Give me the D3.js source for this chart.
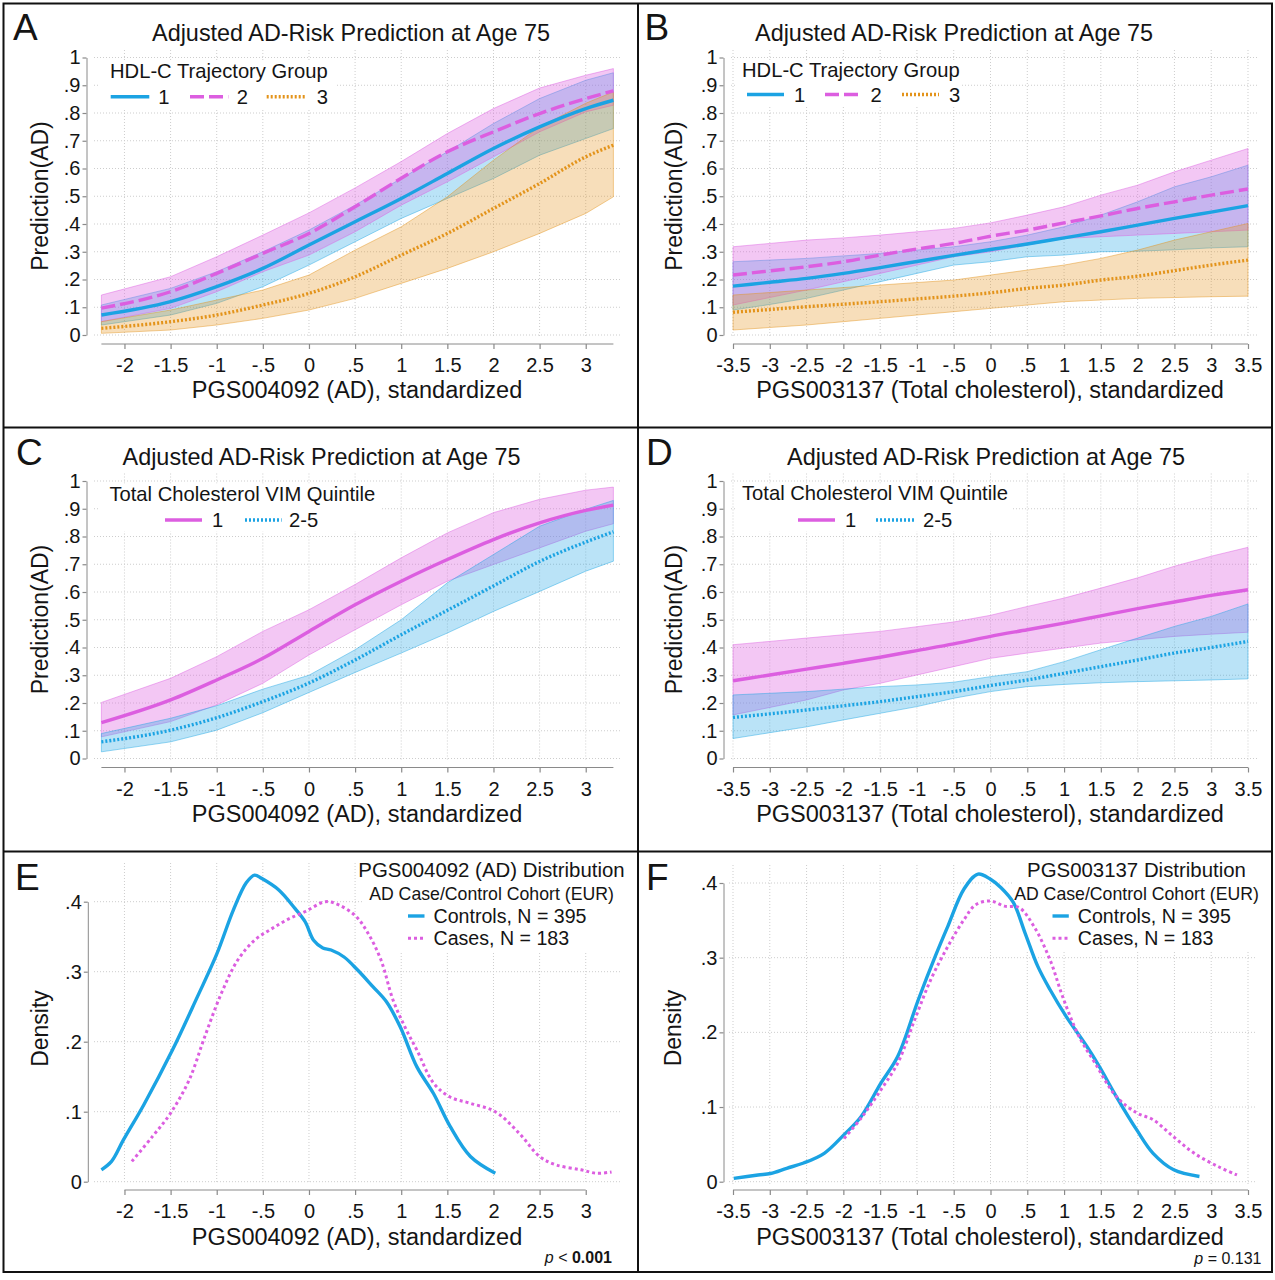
<!DOCTYPE html>
<html><head><meta charset="utf-8">
<script src="https://cdn.jsdelivr.net/npm/d3@7"></script>
<style>
body{margin:0;background:#fff}
svg{display:block}
text{font-family:"Liberation Sans",Arial,sans-serif;fill:#141414}
</style>
</head><body><script>
// ---------------- DATA ----------------
const panelTitle = "Adjusted AD-Risk Prediction at Age 75";
const xTitleAD = "PGS004092 (AD), standardized";
const xTitleTC = "PGS003137 (Total cholesterol), standardized";
const yTitlePred = "Prediction(AD)";
const yTitleDens = "Density";
const legTitleHDL = "HDL-C Trajectory Group";
const legTitleVIM = "Total Cholesterol VIM Quintile";
const hdlGroups = ["1", "2", "3"];
const vimGroups = ["1", "2-5"];
const densTitleE = "PGS004092 (AD) Distribution";
const densTitleF = "PGS003137 Distribution";
const densSub = "AD Case/Control Cohort (EUR)";
const densLabels = ["Controls, N = 395", "Cases, N = 183"];
const pE = ["p", " < ", "0.001"];
const pF = ["p", " = ", "0.131"];

const xTicksAD = [-2, -1.5, -1, -0.5, 0, 0.5, 1, 1.5, 2, 2.5, 3];
const xTicksTC = [-3.5, -3, -2.5, -2, -1.5, -1, -0.5, 0, 0.5, 1, 1.5, 2, 2.5, 3, 3.5];
const yTicksPred = [0, 0.1, 0.2, 0.3, 0.4, 0.5, 0.6, 0.7, 0.8, 0.9, 1];
const yTicksDens = [0, 0.1, 0.2, 0.3, 0.4];

// Panel A / C x grid (PGS004092)
const xAC = [-2.25, -1.5, -1, -0.5, 0, 0.5, 1, 1.5, 2, 2.5, 3, 3.3];
// Panel A: HDL-C groups
const a1   = [0.072, 0.12, 0.174, 0.24, 0.324, 0.408, 0.492, 0.582, 0.672, 0.75, 0.816, 0.846];
const a1lo = [0.036, 0.072, 0.114, 0.174, 0.252, 0.336, 0.42, 0.492, 0.564, 0.648, 0.708, 0.744];
const a1hi = [0.108, 0.168, 0.228, 0.3, 0.378, 0.468, 0.564, 0.66, 0.762, 0.852, 0.918, 0.945];
const a2   = [0.097, 0.156, 0.222, 0.294, 0.366, 0.462, 0.565, 0.66, 0.732, 0.798, 0.852, 0.88];
const a2lo = [0.048, 0.096, 0.156, 0.228, 0.288, 0.372, 0.468, 0.552, 0.642, 0.732, 0.804, 0.828];
const a2hi = [0.144, 0.21, 0.282, 0.36, 0.44, 0.53, 0.625, 0.726, 0.816, 0.89, 0.936, 0.96];
const a3   = [0.024, 0.048, 0.072, 0.108, 0.15, 0.21, 0.288, 0.366, 0.456, 0.546, 0.642, 0.684];
const a3lo = [0.006, 0.018, 0.036, 0.06, 0.09, 0.132, 0.186, 0.24, 0.3, 0.366, 0.438, 0.498];
const a3hi = [0.048, 0.09, 0.126, 0.162, 0.216, 0.306, 0.39, 0.498, 0.63, 0.75, 0.835, 0.876];
// Panel C: VIM quintile
const c1   = [0.129, 0.211, 0.283, 0.361, 0.458, 0.554, 0.639, 0.717, 0.789, 0.849, 0.894, 0.913];
const c1lo = [0.078, 0.133, 0.193, 0.271, 0.373, 0.464, 0.554, 0.639, 0.699, 0.759, 0.819, 0.846];
const c1hi = [0.202, 0.289, 0.367, 0.458, 0.536, 0.627, 0.723, 0.813, 0.886, 0.934, 0.967, 0.978];
const c2   = [0.06, 0.102, 0.147, 0.205, 0.272, 0.355, 0.446, 0.534, 0.622, 0.71, 0.78, 0.817];
const c2lo = [0.024, 0.06, 0.102, 0.165, 0.238, 0.31, 0.38, 0.452, 0.53, 0.602, 0.675, 0.711];
const c2hi = [0.09, 0.145, 0.19, 0.25, 0.3, 0.392, 0.5, 0.633, 0.735, 0.837, 0.898, 0.93];

// Panel B / D x grid (PGS003137)
const xBD = [-3.5, -3, -2.5, -2, -1.5, -1, -0.5, 0, 0.5, 1, 1.5, 2, 2.5, 3, 3.5];
const b1   = [0.176, 0.19, 0.204, 0.222, 0.243, 0.265, 0.287, 0.308, 0.328, 0.35, 0.372, 0.396, 0.42, 0.443, 0.466];
const b1lo = [0.09, 0.11, 0.132, 0.162, 0.192, 0.222, 0.252, 0.264, 0.282, 0.288, 0.3, 0.302, 0.307, 0.314, 0.318];
const b1hi = [0.264, 0.27, 0.276, 0.285, 0.294, 0.306, 0.318, 0.336, 0.36, 0.39, 0.432, 0.48, 0.534, 0.57, 0.612];
const b2   = [0.216, 0.231, 0.246, 0.264, 0.288, 0.31, 0.33, 0.356, 0.378, 0.404, 0.429, 0.456, 0.48, 0.504, 0.526];
const b2lo = [0.108, 0.135, 0.162, 0.192, 0.222, 0.252, 0.282, 0.3, 0.324, 0.348, 0.354, 0.36, 0.366, 0.372, 0.378];
const b2hi = [0.318, 0.33, 0.342, 0.35, 0.36, 0.372, 0.384, 0.404, 0.432, 0.462, 0.504, 0.54, 0.588, 0.63, 0.672];
const b3   = [0.082, 0.092, 0.102, 0.111, 0.12, 0.13, 0.14, 0.152, 0.168, 0.18, 0.198, 0.212, 0.232, 0.252, 0.27];
const b3lo = [0.018, 0.027, 0.036, 0.048, 0.06, 0.072, 0.084, 0.096, 0.108, 0.12, 0.126, 0.132, 0.135, 0.138, 0.14];
const b3hi = [0.144, 0.153, 0.162, 0.171, 0.18, 0.189, 0.198, 0.216, 0.234, 0.252, 0.276, 0.306, 0.342, 0.372, 0.402];
const d1   = [0.28, 0.301, 0.322, 0.343, 0.365, 0.389, 0.413, 0.44, 0.464, 0.488, 0.514, 0.54, 0.564, 0.588, 0.608];
const d1lo = [0.157, 0.184, 0.211, 0.247, 0.271, 0.301, 0.331, 0.361, 0.38, 0.398, 0.416, 0.428, 0.44, 0.448, 0.455];
const d1hi = [0.41, 0.422, 0.434, 0.446, 0.458, 0.475, 0.492, 0.516, 0.548, 0.578, 0.614, 0.651, 0.693, 0.729, 0.761];
const d2   = [0.148, 0.161, 0.175, 0.19, 0.205, 0.223, 0.241, 0.263, 0.283, 0.307, 0.331, 0.355, 0.38, 0.4, 0.422];
const d2lo = [0.072, 0.093, 0.114, 0.139, 0.163, 0.187, 0.217, 0.241, 0.259, 0.267, 0.273, 0.277, 0.28, 0.283, 0.287];
const d2hi = [0.229, 0.235, 0.241, 0.25, 0.259, 0.265, 0.275, 0.295, 0.313, 0.349, 0.392, 0.434, 0.476, 0.512, 0.557];

// Panel E: density of PGS004092
const eCtrlX = [-2.25, -2.14, -2.01, -1.79, -1.48, -1.21, -1.0, -0.82, -0.68, -0.59, -0.51, -0.33, -0.15, -0.04, 0.05, 0.15, 0.24, 0.38, 0.53, 0.69, 0.84, 0.99, 1.17, 1.35, 1.53, 1.75, 2.02];
const eCtrlY = [0.017, 0.029, 0.06, 0.11, 0.188, 0.264, 0.325, 0.388, 0.427, 0.438, 0.433, 0.417, 0.39, 0.371, 0.345, 0.334, 0.331, 0.321, 0.302, 0.279, 0.257, 0.221, 0.164, 0.126, 0.079, 0.036, 0.012];
const eCaseX = [-1.92, -1.70, -1.50, -1.30, -1.13, -0.95, -0.77, -0.59, -0.42, -0.24, -0.04, 0.18, 0.33, 0.51, 0.64, 0.78, 0.91, 1.04, 1.17, 1.35, 1.53, 1.75, 2.02, 2.28, 2.5, 2.68, 2.95, 3.12, 3.28];
const eCaseY = [0.029, 0.064, 0.098, 0.145, 0.207, 0.269, 0.317, 0.345, 0.36, 0.374, 0.386, 0.40, 0.395, 0.379, 0.355, 0.317, 0.26, 0.221, 0.188, 0.141, 0.121, 0.112, 0.10, 0.069, 0.036, 0.024, 0.017, 0.012, 0.014];
// Panel F: density of PGS003137
const fCtrlX = [-3.49, -3.16, -2.99, -2.77, -2.54, -2.26, -1.99, -1.76, -1.49, -1.26, -0.98, -0.75, -0.58, -0.36, -0.17, 0.0, 0.14, 0.31, 0.47, 0.64, 0.81, 1.03, 1.31, 1.48, 1.71, 1.99, 2.21, 2.49, 2.84];
const fCtrlY = [0.0045, 0.009, 0.011, 0.018, 0.025, 0.038, 0.063, 0.087, 0.132, 0.168, 0.244, 0.302, 0.342, 0.392, 0.412, 0.405, 0.394, 0.374, 0.333, 0.289, 0.257, 0.221, 0.181, 0.154, 0.114, 0.069, 0.038, 0.016, 0.007];
const fCaseX = [-1.99, -1.76, -1.49, -1.26, -1.03, -0.81, -0.58, -0.36, -0.20, 0.0, 0.19, 0.39, 0.59, 0.81, 0.98, 1.20, 1.42, 1.71, 1.99, 2.21, 2.49, 2.77, 3.1, 3.35];
const fCaseY = [0.058, 0.085, 0.123, 0.159, 0.217, 0.271, 0.315, 0.351, 0.371, 0.376, 0.369, 0.367, 0.342, 0.297, 0.248, 0.195, 0.159, 0.114, 0.092, 0.083, 0.06, 0.038, 0.02, 0.009];

// ---------------- STYLE ----------------
const BLUE = "#1ba3e3", MAG = "#dc5ee0", ORA = "#e3931a";
const BAND_OP = {};
BAND_OP[BLUE] = 0.3; BAND_OP[MAG] = 0.35; BAND_OP[ORA] = 0.3;
const STYLES = {
  solid: {w: 3.4, dash: null},
  dash: {w: 3.4, dash: "14,5"},
  dot: {w: 3.4, dash: "2,2"},
  ddot: {w: 3, dash: "3,3"}
};
const W = 1275, H = 1280;
const svg = d3.select("body").append("svg").attr("width", W).attr("height", H);
svg.append("rect").attr("width", W).attr("height", H).attr("fill", "#fff");

const fmtNum = d => String(+(+d).toFixed(2)).replace(/^(-?)0\./, "$1.");

function styleLine(sel, color, style) {
  const st = STYLES[style];
  sel.attr("fill", "none").attr("stroke", color).attr("stroke-width", st.w)
     .attr("stroke-dasharray", st.dash).attr("stroke-linecap", "butt").attr("stroke-linejoin", "round");
}
function txt(g, x, y, s, size, anchor) {
  return g.append("text").attr("x", x).attr("y", y).attr("font-size", size)
          .attr("text-anchor", anchor || "start").text(s);
}

function drawPanel(c) {
  const g = svg.append("g");
  const x = d3.scaleLinear().domain(c.xDomain).range(c.xRange);
  const y = d3.scaleLinear().domain(c.yDomain).range(c.yRange);

  // grid
  const grid = g.append("g").attr("stroke", "#cdcdcd").attr("stroke-width", 1).attr("stroke-dasharray", "1,2");
  c.yTicks.forEach(t => grid.append("line").attr("x1", c.gridX[0]).attr("x2", c.gridX[1]).attr("y1", y(t)).attr("y2", y(t)));
  c.xTicks.forEach(t => grid.append("line").attr("y1", c.gridY[0]).attr("y2", c.gridY[1]).attr("x1", x(t)).attr("x2", x(t)));

  if (c.legendBox) g.append("rect").attr("x", c.legendBox[0]).attr("y", c.legendBox[1])
      .attr("width", c.legendBox[2]).attr("height", c.legendBox[3]).attr("fill", "#fff");

  // bands
  c.series.forEach(s => {
    if (!s.lo) return;
    const pts = s.x.map((v, i) => ({x: v, lo: s.lo[i], hi: s.hi[i]}));
    const area = d3.area().x(d => x(d.x)).y0(d => y(d.lo)).y1(d => y(d.hi)).curve(d3.curveLinear);
    g.append("path").datum(pts).attr("d", area).attr("fill", s.color).attr("fill-opacity", BAND_OP[s.color])
      .attr("stroke", s.color).attr("stroke-opacity", 0.45).attr("stroke-width", 1);
  });
  // lines
  c.series.forEach(s => {
    const pts = s.x.map((v, i) => ({x: v, y: s.y[i]}));
    const line = d3.line().x(d => x(d.x)).y(d => y(d.y)).curve(c.curve);
    g.append("path").datum(pts).attr("d", line).call(styleLine, s.color, s.style);
  });

  // axes
  const gx = g.append("g").attr("transform", `translate(0,${c.xAxisY})`)
    .call(d3.axisBottom(x).tickValues(c.xTicks).tickFormat(fmtNum).tickSize(5).tickSizeOuter(0).tickPadding(9));
  gx.select(".domain").remove();
  gx.append("line").attr("x1", x(c.xAxisExt[0])).attr("x2", x(c.xAxisExt[1])).attr("stroke", "currentColor");
  gx.attr("color", "#8a8a8a").attr("font-size", 20).attr("font-family", null);
  gx.selectAll(".tick line").attr("stroke-width", 1.2);

  const gy = g.append("g").attr("transform", `translate(${c.yAxisX},0)`)
    .call(d3.axisLeft(y).tickValues(c.yTicks).tickFormat(fmtNum).tickSize(4).tickSizeOuter(0).tickPadding(2));
  gy.attr("color", "#8a8a8a").attr("font-size", 20).attr("font-family", null);
  gy.selectAll(".tick line").attr("stroke-width", 1.2);

  // titles
  if (c.title) txt(g, c.title[0], c.title[1], panelTitle, 23.4, "middle");
  txt(g, c.letter[1], c.letter[2], c.letter[0], 37);
  txt(g, c.xTitle[0], c.xTitle[1], c.xTitleText, 23.5, "middle");
  g.append("text").attr("transform", `translate(${c.yTitle[0]},${c.yTitle[1]}) rotate(-90)`)
    .attr("text-anchor", "middle").attr("font-size", 23).text(c.yTitleText);

  // legend
  if (c.legend) {
    const L = c.legend;
    txt(g, L.titleX, L.titleY, L.title, 20.2);
    L.items.forEach((it, i) => {
      const s = c.series[i];
      g.append("line").attr("x1", it[0]).attr("x2", it[1]).attr("y1", L.rowY).attr("y2", L.rowY).call(styleLine, s.color, s.style);
      txt(g, it[2], L.rowY + 7.3, L.labels[i], 20.2);
    });
  }
  if (c.dlegend) {
    const L = c.dlegend;
    txt(g, L.cx, L.y1, L.title, 20.4, "middle");
    txt(g, L.cx, L.y2, densSub, 17.7, "middle");
    L.rows.forEach((ry, i) => {
      const s = c.series[i];
      g.append("line").attr("x1", L.lx[0]).attr("x2", L.lx[1]).attr("y1", ry).attr("y2", ry).call(styleLine, s.color, s.style);
      txt(g, L.tx, ry + 6.8, densLabels[i], 19.6);
    });
    const pt = g.append("text").attr("x", L.p[0]).attr("y", L.p[1]).attr("font-size", 16).attr("text-anchor", "end");
    pt.append("tspan").attr("font-style", "italic").text(L.pText[0]);
    pt.append("tspan").text(L.pText[1]);
    pt.append("tspan").attr("font-weight", L.pBold ? "bold" : null).text(L.pText[2]);
  }
}

const OY = 423.5;
// Panel A
drawPanel({
  xDomain: [-2.25, 3.3], xRange: [101.4, 613.4], yDomain: [0, 1], yRange: [335, 57.5],
  xTicks: xTicksAD, yTicks: yTicksPred, gridX: [94, 622], gridY: [50, 338],
  xAxisY: 344, xAxisExt: [-2.25, 3.3], yAxisX: 86.5, curve: d3.curveMonotoneX,
  title: [351, 41], letter: ["A", 13, 40], xTitle: [357, 398.3], xTitleText: xTitleAD,
  yTitle: [47.5, 196], yTitleText: yTitlePred, legendBox: [100, 60, 235, 48],
  series: [
    {x: xAC, y: a1, lo: a1lo, hi: a1hi, color: BLUE, style: "solid"},
    {x: xAC, y: a2, lo: a2lo, hi: a2hi, color: MAG, style: "dash"},
    {x: xAC, y: a3, lo: a3lo, hi: a3hi, color: ORA, style: "dot"}],
  legend: {title: legTitleHDL, titleX: 110, titleY: 78.3, rowY: 96.7, labels: hdlGroups,
    items: [[110.7, 149.3, 158.3], [190, 228.3, 236.7], [266.7, 305, 316.7]]}
});
// Panel B
drawPanel({
  xDomain: [-3.5, 3.5], xRange: [733, 1248], yDomain: [0, 1], yRange: [335, 57.5],
  xTicks: xTicksTC, yTicks: yTicksPred, gridX: [731, 1257], gridY: [50, 338],
  xAxisY: 344, xAxisExt: [-3.5, 3.5], yAxisX: 723.5, curve: d3.curveMonotoneX,
  title: [954, 41], letter: ["B", 644.5, 40], xTitle: [990, 398.3], xTitleText: xTitleTC,
  yTitle: [681.5, 196], yTitleText: yTitlePred, legendBox: [736, 60, 226, 47],
  series: [
    {x: xBD, y: b1, lo: b1lo, hi: b1hi, color: BLUE, style: "solid"},
    {x: xBD, y: b2, lo: b2lo, hi: b2hi, color: MAG, style: "dash"},
    {x: xBD, y: b3, lo: b3lo, hi: b3hi, color: ORA, style: "dot"}],
  legend: {title: legTitleHDL, titleX: 742, titleY: 77.3, rowY: 94.5, labels: hdlGroups,
    items: [[747, 784, 794], [825, 861, 870.5], [902, 939, 949]]}
});
// Panel C
drawPanel({
  xDomain: [-2.25, 3.3], xRange: [101.4, 613.4], yDomain: [0, 1], yRange: [335 + OY, 57.5 + OY],
  xTicks: xTicksAD, yTicks: yTicksPred, gridX: [94, 622], gridY: [50 + OY, 338 + OY],
  xAxisY: 344 + OY, xAxisExt: [-2.25, 3.3], yAxisX: 86.5, curve: d3.curveMonotoneX,
  title: [321.5, 465], letter: ["C", 16, 465], xTitle: [357, 821.7], xTitleText: xTitleAD,
  yTitle: [47.5, 196 + OY], yTitleText: yTitlePred, legendBox: [100, 60 + OY, 282, 48],
  series: [
    {x: xAC, y: c1, lo: c1lo, hi: c1hi, color: MAG, style: "solid"},
    {x: xAC, y: c2, lo: c2lo, hi: c2hi, color: BLUE, style: "dot"}],
  legend: {title: legTitleVIM, titleX: 109.4, titleY: 501, rowY: 520, labels: vimGroups,
    items: [[165, 202, 212], [245, 281.6, 289]]}
});
// Panel D
drawPanel({
  xDomain: [-3.5, 3.5], xRange: [733, 1248], yDomain: [0, 1], yRange: [335 + OY, 57.5 + OY],
  xTicks: xTicksTC, yTicks: yTicksPred, gridX: [731, 1257], gridY: [50 + OY, 338 + OY],
  xAxisY: 344 + OY, xAxisExt: [-3.5, 3.5], yAxisX: 723.5, curve: d3.curveMonotoneX,
  title: [986, 465], letter: ["D", 646, 465], xTitle: [990, 821.7], xTitleText: xTitleTC,
  yTitle: [681.5, 196 + OY], yTitleText: yTitlePred, legendBox: [736, 60 + OY, 276, 48],
  series: [
    {x: xBD, y: d1, lo: d1lo, hi: d1hi, color: MAG, style: "solid"},
    {x: xBD, y: d2, lo: d2lo, hi: d2hi, color: BLUE, style: "dot"}],
  legend: {title: legTitleVIM, titleX: 742, titleY: 500, rowY: 520, labels: vimGroups,
    items: [[798, 835, 845], [876, 914.5, 923]]}
});
// Panel E
drawPanel({
  xDomain: [-2.25, 3.3], xRange: [101.4, 613.4], yDomain: [0, 0.4], yRange: [1181.7, 901.7],
  xTicks: xTicksAD, yTicks: yTicksDens, gridX: [94, 622], gridY: [863, 1184],
  xAxisY: 1190, xAxisExt: [-2, 3], yAxisX: 87.8, curve: d3.curveCatmullRom.alpha(0.5),
  letter: ["E", 15, 890], xTitle: [357, 1245], xTitleText: xTitleAD,
  yTitle: [47.5, 1028.5], yTitleText: yTitleDens, legendBox: [362, 858, 262, 94],
  series: [
    {x: eCtrlX, y: eCtrlY, color: BLUE, style: "solid"},
    {x: eCaseX, y: eCaseY, color: MAG, style: "ddot"}],
  dlegend: {title: densTitleE, cx: 491.5, y1: 876.7, y2: 900, rows: [916, 938.3], lx: [408, 424.5], tx: 433.5,
    p: [612, 1262.5], pText: pE, pBold: true}
});
// Panel F
drawPanel({
  xDomain: [-3.5, 3.5], xRange: [733, 1248], yDomain: [0, 0.4], yRange: [1181.7, 883],
  xTicks: xTicksTC, yTicks: yTicksDens, gridX: [729, 1257], gridY: [865, 1184],
  xAxisY: 1190, xAxisExt: [-3.5, 3.5], yAxisX: 723.5, curve: d3.curveCatmullRom.alpha(0.5),
  letter: ["F", 646, 890], xTitle: [990, 1245], xTitleText: xTitleTC,
  yTitle: [681, 1028], yTitleText: yTitleDens, legendBox: [1012, 858, 250, 94],
  series: [
    {x: fCtrlX, y: fCtrlY, color: BLUE, style: "solid"},
    {x: fCaseX, y: fCaseY, color: MAG, style: "ddot"}],
  dlegend: {title: densTitleF, cx: 1136.5, y1: 876.7, y2: 900, rows: [916, 938.3], lx: [1052.5, 1068.8], tx: 1077.8,
    p: [1261.5, 1264], pText: pF, pBold: false}
});

// frame
const fr = svg.append("g").attr("stroke", "#111").attr("stroke-width", 2).attr("fill", "none");
fr.append("rect").attr("x", 3.5).attr("y", 3.5).attr("width", 1268.5).attr("height", 1268.5);
fr.append("line").attr("x1", 638).attr("x2", 638).attr("y1", 3.5).attr("y2", 1272);
fr.append("line").attr("x1", 3.5).attr("x2", 1272).attr("y1", 427.5).attr("y2", 427.5);
fr.append("line").attr("x1", 3.5).attr("x2", 1272).attr("y1", 851.5).attr("y2", 851.5);
</script></body></html>
